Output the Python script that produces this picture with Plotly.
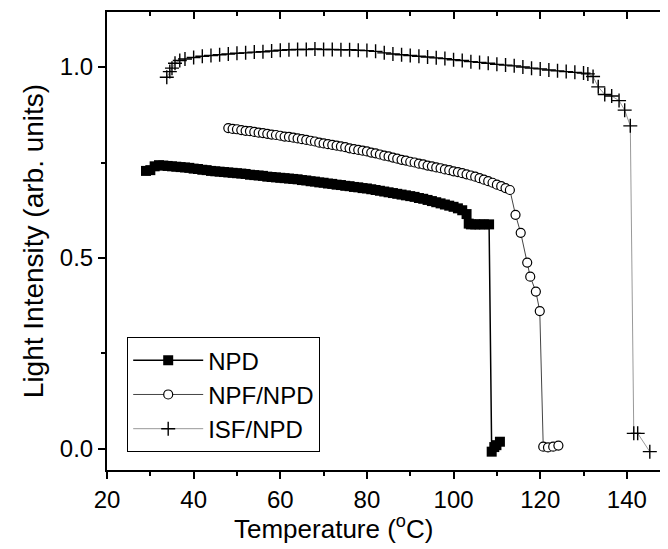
import plotly.graph_objects as go

# NPD (filled squares)
npd_t = [29, 30, 31, 32, 33, 34, 35, 36, 37, 38, 39, 40, 41, 42, 43, 44, 45, 46, 47, 48,
         49, 50, 51, 52, 53, 54, 55, 56, 57, 58, 59, 60, 61, 62, 63, 64, 65, 66, 67, 68,
         69, 70, 71, 72, 73, 74, 75, 76, 77, 78, 79, 80, 81, 82, 83, 84, 85, 86, 87, 88,
         89, 90, 91, 92, 93, 94, 95, 96, 97, 98, 99, 100, 101, 102, 103, 103.5, 104, 105,
         106, 107, 108.2, 108.8, 109.4, 109.9, 110.7]
npd_i = [0.728, 0.730, 0.740, 0.743, 0.742, 0.741, 0.740, 0.739, 0.738, 0.737, 0.736,
         0.734, 0.733, 0.731, 0.730, 0.728, 0.727, 0.726, 0.725, 0.724, 0.723, 0.722,
         0.721, 0.720, 0.718, 0.717, 0.716, 0.715, 0.713, 0.712, 0.711, 0.710, 0.709,
         0.708, 0.707, 0.706, 0.704, 0.703, 0.701, 0.700, 0.698, 0.697, 0.695, 0.694,
         0.692, 0.691, 0.689, 0.688, 0.686, 0.685, 0.683, 0.682, 0.680, 0.678, 0.676,
         0.674, 0.672, 0.670, 0.668, 0.666, 0.664, 0.662, 0.660, 0.657, 0.655, 0.652,
         0.649, 0.646, 0.643, 0.640, 0.637, 0.634, 0.630, 0.625, 0.615, 0.590, 0.588,
         0.588, 0.588, 0.588, 0.588, -0.007, 0.005, 0.010, 0.019]

# NPF/NPD (open circles)
npf_t = [48, 49, 50, 51, 52, 53, 54, 55, 56, 57, 58, 59, 60, 61, 62, 63, 64, 65, 66, 67,
         68, 69, 70, 71, 72, 73, 74, 75, 76, 77, 78, 79, 80, 81, 82, 83, 84, 85, 86, 87,
         88, 89, 90, 91, 92, 93, 94, 95, 96, 97, 98, 99, 100, 101, 102, 103, 104, 105,
         106, 107, 108, 109, 110, 111, 112, 113, 114.3, 115.5, 117.0, 117.7, 119.0, 119.9,
         120.7, 121.8, 123.0, 124.2]
npf_i = [0.840, 0.838, 0.837, 0.835, 0.833, 0.832, 0.830, 0.828, 0.827, 0.825, 0.823,
         0.822, 0.820, 0.818, 0.817, 0.815, 0.813, 0.811, 0.809, 0.807, 0.805, 0.802,
         0.800, 0.798, 0.796, 0.794, 0.792, 0.790, 0.787, 0.785, 0.783, 0.781, 0.779,
         0.776, 0.774, 0.771, 0.768, 0.766, 0.763, 0.760, 0.757, 0.755, 0.752, 0.750,
         0.747, 0.745, 0.742, 0.740, 0.737, 0.735, 0.732, 0.730, 0.727, 0.725, 0.722,
         0.719, 0.716, 0.713, 0.709, 0.705, 0.701, 0.697, 0.692, 0.688, 0.683, 0.678,
         0.613, 0.566, 0.488, 0.451, 0.412, 0.361, 0.006, 0.004, 0.006, 0.009]

# ISF/NPD (crosses)
isf_t = [33.8, 34.5, 35.0, 35.7, 36.8, 38, 40, 42, 44, 46, 48, 50, 52, 54, 56, 58, 60,
         62, 64, 66, 68, 70, 72, 74, 76, 78, 80, 82, 84, 86, 88, 90, 92, 94, 96, 98, 100,
         102, 104, 106, 108, 110, 112, 114, 116, 118, 120, 122, 124, 126, 128, 130, 131,
         132.2, 133.4, 134.9, 136.5, 138.2, 139.5, 140.8, 141.6, 142.5, 145.3]
isf_i = [0.973, 0.988, 0.997, 1.010, 1.017, 1.021, 1.025, 1.028, 1.030, 1.032, 1.034,
         1.036, 1.037, 1.039, 1.040, 1.042, 1.044, 1.045, 1.046, 1.046, 1.047, 1.046,
         1.046, 1.045, 1.045, 1.044, 1.043, 1.041, 1.037, 1.034, 1.032, 1.030, 1.028,
         1.026, 1.024, 1.022, 1.019, 1.017, 1.014, 1.012, 1.010, 1.007, 1.005, 1.003,
         1.000, 0.997, 0.995, 0.992, 0.990, 0.988, 0.986, 0.984, 0.982, 0.975, 0.948,
         0.928, 0.924, 0.912, 0.887, 0.846, 0.041, 0.041, -0.007]

x_range = [20, 149.5]
y_range = [-0.055, 1.144]
font = "Liberation Sans, Arial, sans-serif"

fig = go.Figure()

fig.add_trace(go.Scatter(
    x=npd_t, y=npd_i, name="NPD", mode="lines+markers",
    line=dict(color="black", width=1.5),
    marker=dict(symbol="square", size=10, color="black"),
))
fig.add_trace(go.Scatter(
    x=npf_t, y=npf_i, name="NPF/NPD", mode="lines+markers",
    line=dict(color="#444444", width=1),
    marker=dict(symbol="circle", size=9, color="white",
                line=dict(color="black", width=1.2)),
))
fig.add_trace(go.Scatter(
    x=isf_t, y=isf_i, name="ISF/NPD", mode="lines+markers",
    line=dict(color="#999999", width=1),
    marker=dict(symbol="cross-thin", size=10,
                line=dict(color="black", width=1.4)),
))
# dummy trace so the mirrored top/right axes get drawn
fig.add_trace(go.Scatter(x=[None], y=[None], xaxis="x2", yaxis="y2",
                         showlegend=False, hoverinfo="skip"))

# the page body adds an 8px margin, so the figure is sized to fit inside it
fig.update_layout(
    width=660, height=541,
    margin=dict(l=99, r=0, t=4, b=79),
    paper_bgcolor="white", plot_bgcolor="white",
    font=dict(family=font, color="black"),
    showlegend=True,
    legend=dict(
        x=0.036, y=0.29, xanchor="left", yanchor="top",
        bordercolor="black", borderwidth=1, bgcolor="white",
        font=dict(size=24, family=font), itemwidth=70,
        tracegroupgap=0,
    ),
    xaxis=dict(
        range=x_range, dtick=20, tick0=20, showgrid=False, zeroline=False,
        showline=True, linecolor="black", linewidth=2,
        ticks="outside", ticklen=7, tickwidth=2, tickcolor="black",
        tickfont=dict(size=24),
        minor=dict(dtick=10, ticks="outside", ticklen=4, tickwidth=1.5, tickcolor="black"),
    ),
    yaxis=dict(
        range=y_range, dtick=0.5, tick0=0, tickformat=".1f",
        showgrid=False, zeroline=False,
        showline=True, linecolor="black", linewidth=2,
        ticks="outside", ticklen=7, tickwidth=2, tickcolor="black",
        tickfont=dict(size=24),
        minor=dict(dtick=0.25, ticks="outside", ticklen=4, tickwidth=1.5, tickcolor="black"),
        title=dict(text="Light Intensity (arb. units)", font=dict(size=28), standoff=8),
    ),
    xaxis2=dict(
        range=x_range, dtick=20, tick0=20, overlaying="x", side="top",
        showgrid=False, zeroline=False, showticklabels=False,
        showline=True, linecolor="black", linewidth=2,
        ticks="inside", ticklen=7, tickwidth=2, tickcolor="black",
        minor=dict(dtick=10, ticks="inside", ticklen=4, tickwidth=1.5, tickcolor="black"),
    ),
    yaxis2=dict(
        range=y_range, dtick=0.5, tick0=0, overlaying="y", side="right",
        showgrid=False, zeroline=False, showticklabels=False, showline=False,
        ticks="inside", ticklen=6, tickwidth=2, tickcolor="black",
        minor=dict(dtick=0.25, ticks="inside", ticklen=3, tickwidth=1.5, tickcolor="black"),
    ),
)

# x title sits left of the (cropped) axis centre in the original
fig.add_annotation(
    text="Temperature (<sup>o</sup>C)", xref="paper", yref="paper",
    x=0.403, y=-0.125, xanchor="center", yanchor="middle",
    showarrow=False, font=dict(size=26, family=font),
)

fig.write_html("out.html")
